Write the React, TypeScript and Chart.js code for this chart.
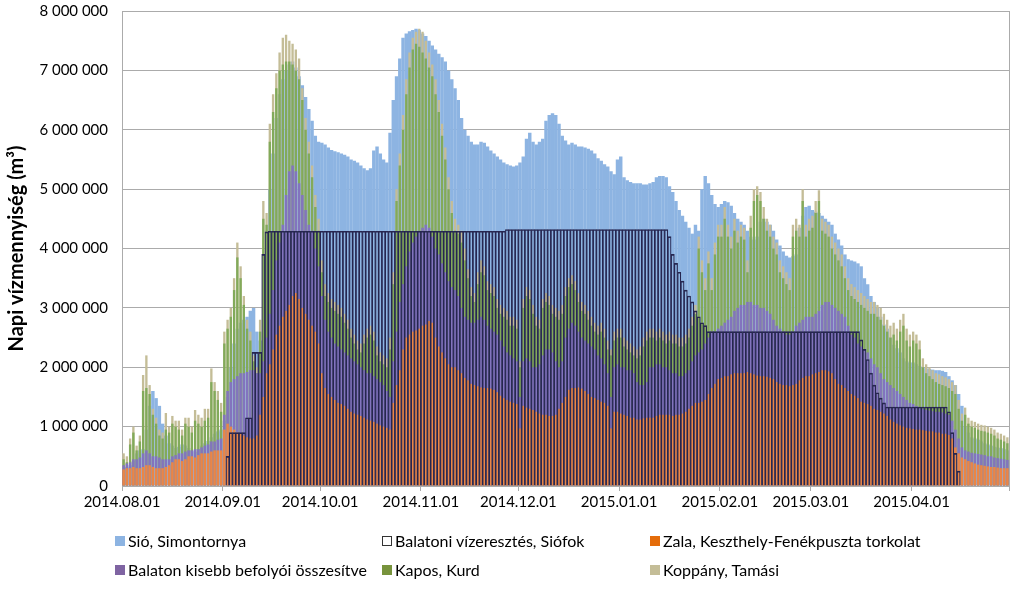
import { useEffect, useRef } from "react";
import { Chart, registerables } from "chart.js";

Chart.register(...registerables);

// Daily values in million m³, 2014.08.01 – 2015.04.30 (one line per month)
const sio = [
  0.30,0.32,0.35,0.42,0.55,0.60,0.62,0.95,1.35,1.60,1.48,1.35,1.05,0.85,0.72,0.68,0.64,0.66,0.70,0.68,0.64,0.60,0.58,0.62,0.68,0.72,0.76,0.82,0.88,0.92,0.95,
  1.10,1.50,2.00,2.40,2.65,2.75,2.80,2.85,2.95,3.00,2.60,2.45,2.45,4.30,5.00,5.60,6.20,6.60,6.85,7.00,7.10,7.15,7.05,6.90,6.75,6.55,6.35,6.15,5.90,5.80,
  5.78,5.75,5.70,5.66,5.64,5.62,5.60,5.58,5.55,5.50,5.48,5.45,5.40,5.35,5.32,5.35,5.65,5.72,5.60,5.50,5.45,5.95,6.50,6.90,7.20,7.55,7.62,7.66,7.68,7.70,7.68,
  7.62,7.58,7.50,7.42,7.35,7.28,7.22,7.15,7.00,6.85,6.70,6.50,6.20,6.00,5.90,5.80,5.75,5.75,5.80,5.78,5.72,5.65,5.60,5.55,5.50,5.45,5.42,5.40,5.38,5.40,
  5.45,5.55,5.85,5.95,5.80,5.75,5.80,5.85,6.15,6.25,6.28,6.25,6.10,5.90,5.82,5.75,5.78,5.75,5.72,5.72,5.70,5.68,5.65,5.60,5.52,5.48,5.42,5.38,5.30,5.25,5.50,
  5.55,5.20,5.15,5.12,5.10,5.10,5.10,5.08,5.08,5.10,5.12,5.20,5.22,5.22,5.20,5.05,4.95,4.80,4.65,4.55,4.45,4.35,4.25,4.40,4.30,5.00,5.22,5.10,4.90,4.75,4.70,
  4.75,4.80,4.78,4.72,4.60,4.50,4.45,4.40,4.30,4.20,4.15,4.20,4.45,4.50,4.45,4.40,4.30,4.15,4.05,3.95,3.88,3.85,3.87,3.90,4.35,4.55,4.70,4.72,
  4.65,4.62,4.60,4.55,4.50,4.45,4.40,4.25,4.15,4.05,3.90,3.82,3.80,3.78,3.75,3.70,3.50,3.40,3.20,3.10,3.00,2.85,2.72,2.65,2.50,2.38,2.32,2.25,2.15,2.10,2.08,
  2.08,2.05,2.02,2.00,1.98,1.97,1.96,1.95,1.95,1.94,1.92,1.85,1.78,1.70,1.55,1.35,1.00,0.90,0.82,0.80,0.78,0.75,0.72,0.70,0.68,0.66,0.65,0.64,0.62,0.60,
];

const vizeresztes = [
  0,0,0,0,0,0,0,0,0,0,0,0,0,0,0,0,0,0,0,0,0,0,0,0,0,0,0,0,0,0,0,
  0,0.50,0.90,0.90,0.90,0.90,0.90,1.15,1.15,2.25,2.25,2.25,3.90,4.28,4.29,4.29,4.29,4.29,4.29,4.29,4.29,4.29,4.29,4.29,4.29,4.29,4.29,4.29,4.29,4.29,
  4.29,4.29,4.29,4.29,4.29,4.29,4.29,4.29,4.29,4.29,4.29,4.29,4.29,4.29,4.29,4.29,4.29,4.29,4.29,4.29,4.29,4.29,4.29,4.29,4.29,4.29,4.29,4.29,4.29,4.29,4.29,
  4.29,4.29,4.29,4.29,4.29,4.29,4.29,4.29,4.29,4.29,4.29,4.29,4.29,4.29,4.29,4.29,4.29,4.29,4.29,4.29,4.29,4.29,4.29,4.29,4.29,4.29,4.32,4.32,4.32,4.32,
  4.32,4.32,4.32,4.32,4.32,4.32,4.32,4.32,4.32,4.32,4.32,4.32,4.32,4.32,4.32,4.32,4.32,4.32,4.32,4.32,4.32,4.32,4.32,4.32,4.32,4.32,4.32,4.32,4.32,4.32,4.32,
  4.32,4.32,4.32,4.32,4.32,4.32,4.32,4.32,4.32,4.32,4.32,4.32,4.32,4.32,4.32,4.20,3.90,3.75,3.60,3.45,3.30,3.20,3.10,2.95,2.85,2.75,2.70,2.60,2.60,2.60,2.60,
  2.60,2.60,2.60,2.60,2.60,2.60,2.60,2.60,2.60,2.60,2.60,2.60,2.60,2.60,2.60,2.60,2.60,2.60,2.60,2.60,2.60,2.60,2.60,2.60,2.60,2.60,2.60,2.60,
  2.60,2.60,2.60,2.60,2.60,2.60,2.60,2.60,2.60,2.60,2.60,2.60,2.60,2.60,2.60,2.46,2.30,2.13,1.90,1.70,1.57,1.48,1.40,1.33,1.33,1.33,1.33,1.33,1.33,1.33,1.33,
  1.33,1.33,1.33,1.33,1.33,1.33,1.33,1.33,1.33,1.33,1.33,1.25,0.90,0.55,0.25,0,0,0,0,0,0,0,0,0,0,0,0,0,0,0,
];

const zala = [
  0.28,0.30,0.30,0.32,0.30,0.30,0.32,0.35,0.35,0.32,0.30,0.30,0.30,0.32,0.35,0.40,0.45,0.45,0.42,0.45,0.50,0.50,0.48,0.52,0.55,0.55,0.55,0.58,0.60,0.60,0.60,
  0.95,1.05,1.00,0.95,0.90,0.88,0.85,0.82,0.80,0.80,0.85,1.20,1.50,1.90,2.05,2.30,2.55,2.70,2.85,2.95,3.05,3.20,3.25,3.15,3.00,2.90,2.80,2.70,2.60,2.40,
  1.90,1.65,1.55,1.50,1.45,1.40,1.38,1.35,1.30,1.25,1.22,1.20,1.18,1.15,1.12,1.10,1.08,1.05,1.02,1.00,0.98,0.95,1.40,1.70,1.95,2.30,2.50,2.55,2.60,2.62,2.65,
  2.70,2.72,2.78,2.75,2.50,2.35,2.25,2.15,2.05,2.00,2.00,1.95,1.90,1.82,1.78,1.72,1.70,1.68,1.66,1.65,1.65,1.64,1.62,1.58,1.52,1.48,1.45,1.42,1.40,1.38,
  0.97,1.35,1.32,1.30,1.28,1.25,1.22,1.20,1.20,1.18,1.18,1.20,1.30,1.40,1.50,1.62,1.65,1.65,1.66,1.64,1.60,1.55,1.50,1.48,1.45,1.42,1.40,1.35,0.97,1.25,1.25,
  1.22,1.20,1.18,1.15,1.15,1.12,1.12,1.14,1.15,1.15,1.15,1.18,1.20,1.20,1.20,1.20,1.18,1.20,1.20,1.22,1.25,1.30,1.35,1.40,1.40,1.42,1.45,1.55,1.65,1.72,1.80,
  1.82,1.85,1.85,1.88,1.90,1.90,1.90,1.90,1.92,1.90,1.88,1.86,1.85,1.85,1.84,1.82,1.80,1.75,1.72,1.70,1.70,1.68,1.70,1.72,1.78,1.82,1.85,1.85,
  1.88,1.90,1.92,1.95,1.95,1.93,1.90,1.80,1.72,1.70,1.65,1.60,1.55,1.52,1.48,1.42,1.40,1.38,1.35,1.30,1.28,1.25,1.22,1.18,1.12,1.08,1.05,1.02,1.00,0.98,0.97,
  0.96,0.95,0.95,0.94,0.93,0.92,0.92,0.90,0.90,0.88,0.88,0.86,0.80,0.65,0.55,0.48,0.45,0.42,0.40,0.38,0.36,0.35,0.34,0.33,0.32,0.32,0.31,0.30,0.30,0.30,
];

const kisebb = [
  0.35,0.38,0.40,0.45,0.45,0.48,0.55,0.60,0.55,0.50,0.50,0.48,0.45,0.45,0.45,0.50,0.52,0.55,0.55,0.58,0.60,0.60,0.62,0.62,0.65,0.68,0.70,0.75,0.75,0.78,0.80,
  1.20,1.60,1.75,1.80,1.85,1.90,1.90,1.92,1.95,1.95,1.90,1.90,2.10,2.50,2.90,3.30,3.80,4.10,4.40,4.90,5.30,5.40,5.30,5.10,4.90,4.65,4.40,4.30,4.00,3.70,
  3.20,2.80,2.60,2.50,2.40,2.35,2.30,2.25,2.20,2.15,2.10,2.05,2.00,1.95,1.90,1.90,1.85,1.80,1.75,1.70,1.60,1.50,2.10,2.60,3.10,3.40,3.70,3.95,4.10,4.20,4.30,
  4.35,4.40,4.35,4.20,4.00,3.90,3.75,3.60,3.45,3.35,3.30,3.20,3.00,2.85,2.80,2.75,2.75,2.80,2.85,2.80,2.70,2.65,2.60,2.55,2.45,2.35,2.25,2.20,2.15,2.10,
  1.50,2.10,2.15,2.10,2.00,2.00,2.05,2.20,2.30,2.30,2.25,2.10,2.00,2.10,2.50,2.65,2.75,2.70,2.60,2.50,2.45,2.40,2.35,2.30,2.20,2.15,2.05,1.90,1.50,2.00,2.05,
  2.00,2.00,1.95,1.95,1.90,1.75,1.70,1.70,1.75,2.00,2.00,2.05,2.05,2.00,2.00,1.95,1.90,1.90,1.85,1.85,1.90,1.95,2.10,2.20,2.25,2.30,2.40,2.50,2.60,2.60,2.65,
  2.70,2.75,2.80,2.85,2.95,3.00,3.05,3.05,3.10,3.10,3.05,3.05,3.00,3.00,2.95,2.90,2.80,2.70,2.65,2.60,2.55,2.55,2.60,2.70,2.75,2.80,2.85,2.85,
  2.85,2.90,2.95,3.05,3.10,3.10,3.05,3.00,2.95,2.90,2.85,2.70,2.55,2.50,2.40,2.35,2.30,2.25,2.15,2.05,2.00,1.90,1.80,1.75,1.70,1.65,1.60,1.55,1.50,1.45,1.40,
  1.38,1.35,1.32,1.30,1.28,1.27,1.26,1.25,1.25,1.24,1.22,1.20,1.10,0.95,0.80,0.65,0.60,0.58,0.56,0.55,0.54,0.53,0.52,0.50,0.50,0.48,0.47,0.46,0.45,0.44,
];

const kapos = [
  0.45,0.40,0.70,0.90,0.60,0.75,1.60,1.65,1.55,1.20,1.05,0.85,0.80,0.95,0.90,1.05,1.00,0.95,0.85,1.05,1.00,0.90,1.10,1.05,1.00,1.10,1.15,1.75,1.60,1.45,1.25,
  2.40,2.65,2.85,3.30,3.85,3.50,3.05,2.65,2.45,2.10,1.90,2.60,4.50,4.40,5.80,6.30,6.70,7.00,7.10,7.15,7.15,7.10,7.00,6.85,6.50,6.00,5.60,5.20,4.70,4.30,
  3.60,3.20,3.10,3.00,2.95,2.90,2.85,2.75,2.65,2.50,2.40,2.30,2.25,2.40,2.50,2.55,2.45,2.20,2.10,2.05,2.00,2.30,3.40,4.80,5.40,6.00,6.60,7.05,7.35,7.45,7.40,
  7.30,7.20,7.05,6.90,6.60,6.30,5.90,5.50,5.00,4.60,4.30,4.25,4.10,3.80,3.50,3.20,3.10,3.40,3.60,3.55,3.30,3.25,3.20,3.00,2.90,2.85,2.80,2.70,2.70,2.65,
  2.00,3.00,3.20,3.15,2.90,2.70,2.65,3.00,3.10,3.05,2.90,2.85,2.80,2.90,3.20,3.35,3.40,3.30,3.10,2.95,2.90,2.80,2.70,2.60,2.55,2.60,2.50,2.30,2.20,2.45,2.50,
  2.50,2.35,2.30,2.25,2.20,2.15,2.20,2.35,2.45,2.50,2.50,2.45,2.50,2.45,2.40,2.45,2.40,2.40,2.35,2.35,2.40,2.50,2.70,2.90,4.00,3.60,3.30,3.75,3.30,3.90,4.20,
  4.20,4.50,4.20,4.00,4.30,4.10,4.20,4.15,3.60,4.35,4.80,4.90,4.80,4.50,4.30,4.20,4.00,3.90,3.60,3.50,3.40,3.30,4.20,4.30,4.20,4.80,4.20,4.30,
  4.35,4.60,4.80,4.30,4.25,4.20,4.00,3.90,3.80,3.70,3.50,3.30,3.20,3.15,3.10,3.05,3.00,2.95,2.90,2.90,2.85,2.80,2.70,2.60,2.50,2.55,2.45,2.60,2.70,2.45,2.35,
  2.45,2.40,2.30,2.00,1.90,1.85,1.80,1.75,1.72,1.70,1.68,1.65,1.60,1.55,1.30,1.10,1.20,1.05,1.00,0.98,0.95,0.93,0.92,0.90,0.88,0.85,0.80,0.78,0.75,0.72,
];

const koppany = [
  0.55,0.50,0.80,1.00,0.68,0.85,1.87,2.20,1.70,1.30,1.15,0.95,0.90,1.23,1.00,1.18,1.10,1.10,0.95,1.15,1.15,1.00,1.28,1.20,1.15,1.30,1.30,1.98,1.75,1.60,1.40,
  2.60,2.80,3.00,3.50,4.10,3.70,3.20,2.80,2.60,2.20,2.00,2.80,4.80,4.60,6.10,6.60,6.95,7.30,7.55,7.60,7.50,7.45,7.35,7.20,6.70,6.20,5.80,5.40,4.90,4.50,
  3.80,3.40,3.25,3.15,3.10,3.05,3.00,2.90,2.80,2.65,2.55,2.45,2.40,2.55,2.65,2.70,2.60,2.35,2.25,2.20,2.15,2.50,3.60,5.00,5.60,6.25,6.85,7.30,7.55,7.65,7.70,
  7.65,7.50,7.30,7.10,6.85,6.50,6.10,5.70,5.20,4.80,4.50,4.40,4.30,4.00,3.65,3.35,3.25,3.60,3.80,3.70,3.45,3.40,3.35,3.15,3.05,3.00,2.95,2.85,2.85,2.80,
  2.10,3.15,3.35,3.30,3.05,2.85,2.80,3.15,3.25,3.20,3.05,3.00,2.95,3.05,3.35,3.50,3.55,3.45,3.25,3.10,3.05,2.95,2.85,2.75,2.70,2.75,2.65,2.45,2.30,2.60,2.65,
  2.65,2.50,2.45,2.40,2.35,2.30,2.35,2.50,2.60,2.65,2.65,2.60,2.65,2.60,2.55,2.60,2.55,2.55,2.50,2.50,2.55,2.65,2.85,3.05,4.20,3.80,3.50,3.95,3.50,4.10,4.40,
  4.40,4.70,4.40,4.20,4.50,4.30,4.40,4.35,3.80,4.55,5.00,5.05,4.95,4.70,4.50,4.40,4.20,4.10,3.80,3.70,3.60,3.50,4.40,4.50,4.40,5.00,4.40,4.50,
  4.55,4.80,4.98,4.50,4.45,4.40,4.20,4.10,4.00,3.90,3.70,3.50,3.40,3.35,3.30,3.25,3.20,3.15,3.10,3.10,3.05,3.00,2.90,2.80,2.70,2.75,2.65,2.80,2.90,2.65,2.55,
  2.60,2.55,2.45,2.15,2.05,2.00,1.95,1.90,1.88,1.85,1.83,1.80,1.75,1.70,1.45,1.22,1.32,1.15,1.10,1.08,1.05,1.03,1.02,1.00,0.98,0.95,0.90,0.88,0.85,0.82,
];

// month-start tick positions (day index) and their labels; last one closes the axis
const tickDays = [0, 31, 61, 92, 122, 153, 184, 212, 243, 273];
const tickLabels = [
  "2014.08.01", "2014.09.01", "2014.10.01", "2014.11.01", "2014.12.01",
  "2015.01.01", "2015.02.01", "2015.03.01", "2015.04.01", "",
];

const seriesNames = [
  "Sió, Simontornya",
  "Balatoni vízeresztés, Siófok",
  "Zala, Keszthely-Fenékpuszta torkolat",
  "Balaton kisebb befolyói összesítve",
  "Kapos, Kurd",
  "Koppány, Tamási",
];

const FONT = 'Lato, "Open Sans", sans-serif';
const GRID = "#ABABAB";

const fmt = (v: number) => String(Math.round(v)).replace(/\B(?=(\d{3})+(?!\d))/g, " ");

const toPts = (arr: number[]) =>
  arr.map((v, i) => ({ x: i, y: v === 0 ? null : v * 1e6 }));

const frame = {
  id: "frame",
  afterDatasetsDraw(chart: any) {
    const { ctx, chartArea: a } = chart;
    ctx.save();
    ctx.strokeStyle = GRID;
    ctx.lineWidth = 1;
    ctx.beginPath();
    ctx.moveTo(Math.round(a.right) + 0.5, a.top);
    ctx.lineTo(Math.round(a.right) + 0.5, a.bottom + 5);
    ctx.stroke();
    ctx.restore();
  },
};

export default function App() {
  const ref = useRef<HTMLCanvasElement>(null);

  useEffect(() => {
    document.body.style.margin = "0";
    const common = { grouped: false, categoryPercentage: 1, borderWidth: 0 };
    const chart = new Chart(ref.current as HTMLCanvasElement, {
      type: "bar",
      data: {
        datasets: [
          { ...common, label: seriesNames[0], data: toPts(sio), backgroundColor: "#8DB4E2", barPercentage: 1.06, order: 6 },
          {
            ...common,
            label: seriesNames[1],
            data: toPts(vizeresztes),
            backgroundColor: "rgba(0,0,0,0)",
            borderColor: "#262650",
            borderWidth: { top: 1, left: 0.5, right: 0.5, bottom: 0 },
            borderSkipped: false,
            barPercentage: 1,
            order: 1,
          },
          { ...common, label: seriesNames[2], data: toPts(zala), backgroundColor: "#EA8646", barPercentage: 0.78, order: 2 },
          { ...common, label: seriesNames[3], data: toPts(kisebb), backgroundColor: "#8274BE", barPercentage: 0.78, order: 3 },
          { ...common, label: seriesNames[4], data: toPts(kapos), backgroundColor: "#82AA5A", barPercentage: 0.72, order: 4 },
          { ...common, label: seriesNames[5], data: toPts(koppany), backgroundColor: "#C4BD97", barPercentage: 0.72, order: 5 },
        ] as any,
      },
      options: {
        animation: false,
        responsive: false,
        layout: { padding: { left: 0, right: 15, top: 11, bottom: 72 } },
        plugins: { legend: { display: false }, tooltip: { enabled: false } },
        scales: {
          x: {
            type: "linear",
            min: -0.5,
            max: 272.5,
            offset: false,
            afterBuildTicks: (s: any) => {
              s.ticks = tickDays.map((d) => ({ value: d - 0.5 }));
            },
            afterFit: (s: any) => {
              s.height = 31;
            },
            ticks: {
              autoSkip: false,
              maxRotation: 0,
              padding: 2,
              color: "#000",
              font: { family: FONT, size: 15 },
              callback: (_v: any, i: number) => tickLabels[i],
            },
            grid: { drawOnChartArea: false, drawTicks: true, tickLength: 5, color: GRID, offset: false },
            border: { color: GRID },
          },
          y: {
            min: 0,
            max: 8e6,
            afterFit: (s: any) => {
              s.width = 122;
            },
            ticks: {
              stepSize: 1e6,
              padding: 1,
              color: "#000",
              font: { family: FONT, size: 15 },
              callback: (v: any) => fmt(Number(v)),
            },
            grid: { color: GRID, drawTicks: true, tickLength: 13, tickColor: "rgba(0,0,0,0)" },
            border: { color: GRID },
            title: {
              display: true,
              text: "Napi vízmennyiség (m³)",
              color: "#000",
              font: { family: FONT, size: 20, weight: "bold" },
              padding: { top: 5, bottom: 0 },
            },
          },
        },
      } as any,
      plugins: [frame],
    });
    return () => chart.destroy();
  }, []);

  const legend = [
    { name: seriesNames[0], fill: "#8DB4E2", border: "none", sx: 115, tx: 128, y: 541 },
    { name: seriesNames[1], fill: "#ffffff", border: "1px solid #333", sx: 382, tx: 395, y: 541 },
    { name: seriesNames[2], fill: "#E46C0A", border: "none", sx: 650, tx: 663, y: 541 },
    { name: seriesNames[3], fill: "#7F64A2", border: "none", sx: 115, tx: 128, y: 570 },
    { name: seriesNames[4], fill: "#77933C", border: "none", sx: 382, tx: 395, y: 570 },
    { name: seriesNames[5], fill: "#C4BD97", border: "none", sx: 650, tx: 663, y: 570 },
  ];

  return (
    <div style={{ position: "relative", width: 1024, height: 589, background: "#fff", overflow: "hidden" }}>
      <canvas ref={ref} width={1024} height={589} style={{ position: "absolute", left: 0, top: 0, width: 1024, height: 589 }} />
      {legend.map((l) => (
        <div key={l.name}>
          <div
            style={{
              position: "absolute",
              left: l.sx,
              top: l.y - 5,
              width: 10,
              height: 10,
              boxSizing: "border-box",
              background: l.fill,
              border: l.border,
            }}
          />
          <div
            style={{
              position: "absolute",
              left: l.tx,
              top: l.y - 10,
              height: 20,
              lineHeight: "20px",
              fontFamily: FONT,
              fontSize: 16,
              color: "#000",
              whiteSpace: "nowrap",
            }}
          >
            {l.name}
          </div>
        </div>
      ))}
    </div>
  );
}
